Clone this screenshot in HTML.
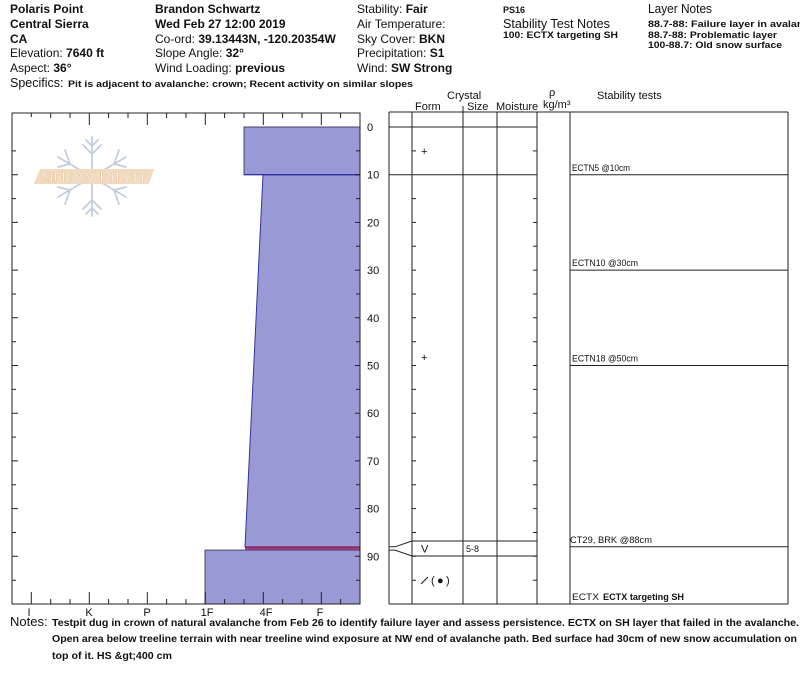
<!DOCTYPE html>
<html><head><meta charset="utf-8"><style>
html,body{margin:0;padding:0;background:#fff;}
svg{display:block;}
text{font-family:"Liberation Sans",Arial,sans-serif;fill:#111;}
.b{font-weight:bold;}
</style></head><body>
<svg width="800" height="676" viewBox="0 0 800 676" xmlns="http://www.w3.org/2000/svg">
<rect width="800" height="676" fill="#fff"/>
<!-- header col1 -->
<g font-size="12">
<text x="10" y="13" class="b">Polaris Point</text>
<text x="10" y="28" class="b">Central Sierra</text>
<text x="10" y="43" class="b">CA</text>
<text x="10" y="57">Elevation: <tspan class="b">7640 ft</tspan></text>
<text x="10" y="72">Aspect: <tspan class="b">36°</tspan></text>
<text x="155" y="13" class="b">Brandon Schwartz</text>
<text x="155" y="28" class="b">Wed Feb 27 12:00 2019</text>
<text x="155" y="43">Co-ord: <tspan class="b">39.13443N, -120.20354W</tspan></text>
<text x="155" y="57">Slope Angle: <tspan class="b">32°</tspan></text>
<text x="155" y="72">Wind Loading: <tspan class="b">previous</tspan></text>
<text x="357" y="13">Stability: <tspan class="b">Fair</tspan></text>
<text x="357" y="28">Air Temperature:</text>
<text x="357" y="43">Sky Cover: <tspan class="b">BKN</tspan></text>
<text x="357" y="57">Precipitation: <tspan class="b">S1</tspan></text>
<text x="357" y="72">Wind:  <tspan class="b">SW Strong</tspan></text>
<text x="10" y="87" font-size="12.5">Specifics:</text>
</g>
<text x="68" y="87" font-size="9" class="b" textLength="345" lengthAdjust="spacingAndGlyphs">Pit is adjacent to avalanche: crown; Recent activity on similar slopes</text>
<!-- right header -->
<text x="503" y="13" font-size="9" class="b">PS16</text>
<text x="503" y="28" font-size="12.5" textLength="107" lengthAdjust="spacingAndGlyphs">Stability Test Notes</text>
<text x="503" y="38" font-size="9" class="b" textLength="115" lengthAdjust="spacingAndGlyphs">100: ECTX targeting SH</text>
<text x="648" y="13" font-size="12.5" textLength="64" lengthAdjust="spacingAndGlyphs">Layer Notes</text>
<text x="648" y="27" font-size="9" class="b" textLength="174" lengthAdjust="spacingAndGlyphs">88.7-88: Failure layer in avalanche</text>
<text x="648" y="38" font-size="9" class="b" textLength="129" lengthAdjust="spacingAndGlyphs">88.7-88: Problematic layer</text>
<text x="648" y="48" font-size="9" class="b" textLength="134" lengthAdjust="spacingAndGlyphs">100-88.7: Old snow surface</text>

<!-- logo -->
<g stroke="#c2cedb" stroke-width="1.8" fill="none" stroke-linecap="round">
<line x1="92" y1="137" x2="92" y2="216"/>
<line x1="58" y1="157" x2="126" y2="197"/>
<line x1="58" y1="197" x2="126" y2="157"/>
<path d="M83 145 L92 154 L101 145 M86 140 L92 146 L98 140 M83 209 L92 200 L101 209 M86 214 L92 208 L98 214"/>
<path d="M65 150 L70 164 L58 167 M119 150 L114 164 L126 167 M65 204 L70 190 L58 187 M119 204 L114 190 L126 187"/>
</g>
<polygon points="40,169 154,169 149,184 34,184" fill="#f2dac0"/>
<text x="42" y="182" font-size="15" stroke="#e3bf98" stroke-width="0.5" textLength="106" lengthAdjust="spacingAndGlyphs" style="fill:#fff">SNOW PILOT</text>

<!-- left chart layers -->
<rect x="244" y="127" width="116" height="47.7" fill="#9999d5" stroke="#444466" stroke-width="1"/>
<polygon points="263,174.7 360,174.7 360,546.8 245,546.8" fill="#9999d5" stroke="#3333a0" stroke-width="1"/>
<line x1="244" y1="174.7" x2="360" y2="174.7" stroke="#2a2aa8" stroke-width="1.2"/>
<rect x="205" y="550.1" width="155" height="53.9" fill="#9999d5" stroke="#444466" stroke-width="1"/>
<rect x="245" y="546.6" width="115" height="3.6" fill="#8a3f7f"/>
<line x1="245" y1="547.5" x2="360" y2="547.5" stroke="#b02040" stroke-width="1"/>
<!-- left chart frame -->
<rect x="12" y="113" width="348" height="491" fill="none" stroke="#222" stroke-width="1"/>
<g stroke="#222" stroke-width="1">
<path d="M31.3 113v4M50.7 113v5M70 113v5M89.3 113v12M108.6 113v5M128 113v5M147.3 113v12M166.6 113v5M186 113v5M205.3 113v12M224.6 113v5M244 113v5M263.3 113v12M282.6 113v5M302 113v5M321.3 113v12M340.6 113v5"/>
<path d="M31.3 604v-12M50.7 604v-5M70 604v-5M89.3 604v-12M108.6 604v-5M128 604v-5M147.3 604v-12M166.6 604v-5M186 604v-5M205.3 604v-12M224.6 604v-5M244 604v-5M263.3 604v-12M282.6 604v-5M302 604v-5M321.3 604v-12M340.6 604v-5"/>
<path d="M12 150.9h4M12 174.7h6M12 198.6h4M12 222.4h6M12 246.3h4M12 270.1h6M12 294h4M12 317.8h6M12 341.7h4M12 365.5h6M12 389.4h4M12 413.2h6M12 437.1h4M12 460.9h6M12 484.8h4M12 508.6h6M12 532.5h4M12 556.3h6M12 580.2h4"/>
<path d="M360 150.9h-4M360 174.7h-5M360 198.6h-4M360 222.4h-5M360 246.3h-4M360 270.1h-5M360 294h-4M360 317.8h-5M360 341.7h-4M360 365.5h-5M360 389.4h-4M360 413.2h-5M360 437.1h-4M360 460.9h-5M360 484.8h-4M360 508.6h-5M360 532.5h-4M360 556.3h-5M360 580.2h-4"/>
</g>
<!-- depth labels -->
<g font-size="11">
<text x="367" y="131">0</text>
<text x="367" y="178.7">10</text>
<text x="367" y="226.4">20</text>
<text x="367" y="274.1">30</text>
<text x="367" y="321.8">40</text>
<text x="367" y="369.5">50</text>
<text x="367" y="417.2">60</text>
<text x="367" y="464.9">70</text>
<text x="367" y="512.6">80</text>
<text x="367" y="560.3">90</text>
</g>
<!-- hardness labels -->
<g font-size="11" text-anchor="middle">
<text x="29" y="616">I</text>
<text x="89" y="616">K</text>
<text x="147" y="616">P</text>
<text x="207" y="616">1F</text>
<text x="266" y="616">4F</text>
<text x="320" y="616">F</text>
</g>

<!-- table headers -->
<g font-size="11">
<text x="447" y="99">Crystal</text>
<text x="415" y="110">Form</text>
<text x="467" y="110">Size</text>
<text x="496" y="110">Moisture</text>
<text x="549" y="96">ρ</text>
<text x="543" y="108">kg/m³</text>
<text x="597" y="99">Stability tests</text>
</g>
<!-- table frame -->
<g stroke="#222" stroke-width="1" fill="none">
<line x1="389" y1="112" x2="788" y2="112"/>
<line x1="389" y1="604" x2="788" y2="604"/>
<line x1="389" y1="112" x2="389" y2="604"/>
<line x1="412" y1="112" x2="412" y2="604"/>
<line x1="463" y1="106" x2="463" y2="604"/>
<line x1="497" y1="112" x2="497" y2="604"/>
<line x1="537" y1="112" x2="537" y2="604"/>
<line x1="570" y1="112" x2="570" y2="604"/>
<line x1="788" y1="112" x2="788" y2="604"/>
<line x1="389" y1="127" x2="537" y2="127"/>
<line x1="389" y1="174.7" x2="537" y2="174.7"/>
<line x1="412" y1="541" x2="537" y2="541"/>
<line x1="412" y1="556" x2="537" y2="556"/>
<path d="M389 546.8h6L412 541M389 550.1h6L412 556"/>
<line x1="570" y1="174.7" x2="788" y2="174.7"/>
<line x1="570" y1="270.1" x2="788" y2="270.1"/>
<line x1="570" y1="365.5" x2="788" y2="365.5"/>
<line x1="570" y1="546.8" x2="788" y2="546.8"/>
<path d="M412 150.9h4M412 198.6h4M412 222.4h4M412 246.3h4M412 270.1h4M412 294h4M412 317.8h4M412 341.7h4M412 365.5h4M412 389.4h4M412 413.2h4M412 437.1h4M412 460.9h4M412 484.8h4M412 508.6h4M412 532.5h4M412 556.3h4M412 580.2h4"/>
<path d="M537 150.9h-4M537 198.6h-4M537 222.4h-4M537 246.3h-4M537 270.1h-4M537 294h-4M537 317.8h-4M537 341.7h-4M537 365.5h-4M537 389.4h-4M537 413.2h-4M537 437.1h-4M537 460.9h-4M537 484.8h-4M537 508.6h-4M537 532.5h-4M537 556.3h-4M537 580.2h-4"/>
<!-- slash symbol -->
<line x1="421" y1="584" x2="428" y2="577" stroke="#111" stroke-width="1"/>
</g>
<!-- form symbols -->
<g font-size="11">
<text x="421" y="155">+</text>
<text x="421" y="361">+</text>
<text x="421" y="552.5">V</text>
<text x="466" y="552" font-size="9">5-8</text>
<text x="431" y="584">(</text>
<text x="437" y="584">●</text>
<text x="446" y="584">)</text>
</g>
<!-- stability tests -->
<g font-size="9" fill="#222">
<text x="572" y="171" textLength="58" lengthAdjust="spacingAndGlyphs">ECTN5 @10cm</text>
<text x="572" y="266" textLength="66" lengthAdjust="spacingAndGlyphs">ECTN10 @30cm</text>
<text x="572" y="361.5" textLength="66" lengthAdjust="spacingAndGlyphs">ECTN18 @50cm</text>
<text x="570" y="543" textLength="82" lengthAdjust="spacingAndGlyphs">CT29, BRK @88cm</text>
<text x="572" y="600" textLength="27" lengthAdjust="spacingAndGlyphs">ECTX</text>
<text x="603" y="600" class="b" textLength="81" lengthAdjust="spacingAndGlyphs">ECTX targeting SH</text>
</g>
<!-- notes -->
<text x="10" y="626" font-size="13">Notes:</text>
<g font-size="10" class="b">
<text x="52" y="626" class="b" textLength="747" lengthAdjust="spacingAndGlyphs">Testpit dug in crown of natural avalanche from Feb 26 to identify failure layer and assess persistence. ECTX on SH layer that failed in the avalanche.</text>
<text x="52" y="642" class="b" textLength="745" lengthAdjust="spacingAndGlyphs">Open area below treeline terrain with near treeline wind exposure at NW end of avalanche path. Bed surface had 30cm of new snow accumulation on</text>
<text x="52" y="659" class="b" textLength="120" lengthAdjust="spacingAndGlyphs">top of it. HS &amp;gt;400 cm</text>
</g>
</svg>
</body></html>
